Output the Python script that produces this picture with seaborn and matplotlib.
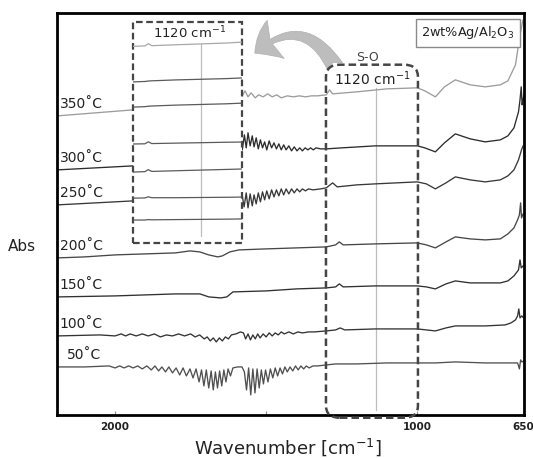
import numpy as np
import pandas as pd
import matplotlib.pyplot as plt
from matplotlib.patches import FancyBboxPatch, Rectangle
import seaborn as sns

# ---- spectra (wavenumber in cm-1, absorbance offset a.u.) ----
temps = ['350', '300', '250', '200', '150', '100', '50']

t350_wn = [2190, 1940, 1579, 1570, 1560, 1550, 1536, 1525, 1510, 1495, 1480, 1465, 1450, 1430, 1410,
           1390, 1370, 1350, 1330, 1301, 1290, 1280, 1200, 1100, 1000, 975, 940, 910, 874, 825,
           775, 725, 700, 675, 660, 650]
t350_a = [2.99, 3.05, 3.19, 3.24, 3.18, 3.22, 3.17, 3.20, 3.18, 3.21, 3.18, 3.20, 3.17, 3.19, 3.18,
          3.19, 3.18, 3.19, 3.19, 3.20, 3.25, 3.21, 3.23, 3.26, 3.27, 3.24, 3.18, 3.28, 3.35, 3.30,
          3.28, 3.30, 3.34, 3.50, 3.80, 3.95]

t300_wn = [2190, 1940, 1579, 1572, 1566, 1560, 1553, 1546, 1540, 1533, 1526, 1519, 1512, 1505, 1498,
           1490, 1482, 1474, 1466, 1458, 1450, 1442, 1434, 1425, 1416, 1407, 1398, 1389, 1380, 1371,
           1362, 1353, 1344, 1335, 1320, 1301, 1250, 1139, 1000, 975, 940, 910, 874, 825, 775, 725,
           700, 680, 665, 660, 656, 653, 650, 647]
t300_a = [2.45, 2.49, 2.65, 2.80, 2.67, 2.82, 2.69, 2.79, 2.68, 2.77, 2.66, 2.75, 2.67, 2.73, 2.65,
          2.74, 2.67, 2.72, 2.66, 2.71, 2.65, 2.70, 2.65, 2.69, 2.64, 2.68, 2.64, 2.67, 2.64, 2.67,
          2.65, 2.67, 2.65, 2.67, 2.66, 2.66, 2.67, 2.69, 2.69, 2.67, 2.63, 2.72, 2.81, 2.76, 2.73, 2.75,
          2.79, 2.87, 3.03, 3.15, 3.28, 3.10, 3.15, 3.20]

t250_wn = [2190, 1940, 1579, 1573, 1566, 1560, 1553, 1546, 1540, 1533, 1526, 1519, 1512, 1505, 1498,
           1490, 1482, 1474, 1466, 1458, 1450, 1442, 1434, 1425, 1416, 1407, 1398, 1389, 1380, 1370,
           1360, 1345, 1320, 1301, 1280, 1265, 1200, 1139, 1000, 970, 940, 905, 874, 825, 775, 725,
           700, 680, 665, 655, 650]
t250_a = [2.10, 2.14, 2.19, 2.08, 2.22, 2.07, 2.21, 2.09, 2.20, 2.11, 2.22, 2.13, 2.23, 2.15, 2.24,
          2.16, 2.25, 2.18, 2.25, 2.19, 2.26, 2.20, 2.26, 2.21, 2.26, 2.22, 2.26, 2.23, 2.26, 2.24,
          2.26, 2.25, 2.26, 2.27, 2.32, 2.28, 2.30, 2.31, 2.33, 2.31, 2.26, 2.32, 2.38, 2.35, 2.33, 2.35,
          2.39, 2.45, 2.55, 2.65, 2.69]

t200_wn = [2190, 2100, 2000, 1900, 1800, 1752, 1720, 1690, 1660, 1645, 1620, 1590, 1500, 1400, 1301,
           1270, 1258, 1245, 1139, 1000, 970, 940, 905, 874, 825, 775, 725, 700, 680, 668, 662, 658,
           655, 650]
t200_a = [1.57, 1.58, 1.60, 1.61, 1.62, 1.64, 1.63, 1.60, 1.58, 1.59, 1.63, 1.65, 1.66, 1.67, 1.68,
          1.70, 1.73, 1.70, 1.71, 1.72, 1.70, 1.67, 1.73, 1.78, 1.76, 1.75, 1.76, 1.81, 1.87, 1.95, 2.00, 2.12,
          1.97, 2.01]

t150_wn = [2190, 2000, 1800, 1719, 1690, 1650, 1630, 1610, 1500, 1400, 1301, 1270, 1258, 1245, 1139,
           1000, 970, 940, 905, 874, 825, 775, 725, 700, 680, 665, 660, 656, 650]
t150_a = [1.18, 1.19, 1.21, 1.21, 1.18, 1.17, 1.18, 1.23, 1.24, 1.26, 1.27, 1.28, 1.31, 1.28, 1.29,
          1.29, 1.28, 1.26, 1.31, 1.34, 1.32, 1.32, 1.32, 1.34, 1.39, 1.45, 1.55, 1.47, 1.49]

t100_wn = [2190, 2050, 2000, 1980, 1965, 1950, 1930, 1910, 1890, 1870, 1850, 1830, 1810, 1790, 1770,
           1750, 1735, 1720, 1705, 1695, 1685, 1675, 1665, 1655, 1645, 1635, 1625, 1615, 1600, 1585,
           1575, 1568, 1560, 1552, 1544, 1536, 1528, 1520, 1510, 1500, 1490, 1480, 1470, 1460, 1450,
           1440, 1425, 1410, 1395, 1380, 1360, 1340, 1301, 1270, 1255, 1240, 1139, 1000, 970, 940,
           905, 874, 825, 775, 709, 690, 675, 668, 664, 660, 654, 648]
t100_a = [0.79, 0.80, 0.79, 0.81, 0.79, 0.81, 0.79, 0.81, 0.79, 0.81, 0.78, 0.80, 0.79, 0.81, 0.79,
          0.81, 0.78, 0.80, 0.76, 0.78, 0.74, 0.77, 0.73, 0.77, 0.74, 0.78, 0.76, 0.80, 0.81, 0.83,
          0.82, 0.76, 0.81, 0.75, 0.80, 0.76, 0.81, 0.77, 0.81, 0.78, 0.82, 0.79, 0.82, 0.80, 0.83,
          0.81, 0.83, 0.81, 0.83, 0.82, 0.83, 0.83, 0.84, 0.85, 0.87, 0.85, 0.86, 0.86, 0.85, 0.84,
          0.87, 0.89, 0.89, 0.89, 0.90, 0.92, 0.95, 0.99, 1.06, 0.97, 0.99, 0.97]

t50_wn = [2190, 2100, 2020, 2000, 1985, 1970, 1955, 1940, 1925, 1910, 1895, 1880, 1868, 1856, 1845,
          1833, 1822, 1810, 1798, 1786, 1775, 1764, 1752, 1742, 1732, 1722, 1714, 1706, 1698, 1690,
          1682, 1675, 1668, 1661, 1654, 1647, 1640, 1633, 1626, 1618, 1610, 1595, 1580, 1572, 1565,
          1558, 1551, 1544, 1537, 1530, 1523, 1516, 1509, 1502, 1494, 1486, 1478, 1470, 1462, 1454,
          1446, 1438, 1430, 1421, 1412, 1403, 1394, 1385, 1376, 1367, 1358, 1345, 1330, 1301, 1270,
          1200, 1100, 1000, 940, 874, 775, 700, 668, 662, 658, 654, 648]
t50_a = [0.48, 0.48, 0.49, 0.47, 0.49, 0.47, 0.49, 0.47, 0.49, 0.46, 0.49, 0.45, 0.49, 0.44, 0.48,
         0.43, 0.48, 0.42, 0.47, 0.40, 0.47, 0.39, 0.46, 0.37, 0.46, 0.33, 0.45, 0.29, 0.45, 0.27,
         0.44, 0.25, 0.43, 0.27, 0.44, 0.29, 0.45, 0.33, 0.46, 0.39, 0.47, 0.48, 0.48, 0.43, 0.25,
         0.47, 0.20, 0.46, 0.22, 0.46, 0.27, 0.45, 0.31, 0.45, 0.33, 0.46, 0.37, 0.47, 0.39, 0.47,
         0.41, 0.48, 0.43, 0.48, 0.44, 0.49, 0.45, 0.49, 0.46, 0.49, 0.47, 0.49, 0.49, 0.50, 0.51,
         0.51, 0.52, 0.52, 0.52, 0.53, 0.52, 0.52, 0.52, 0.46, 0.55, 0.53, 0.54]

# zoomed view around the S-O band (inset)
inset_wn = [1200, 1186, 1182, 1178, 1150, 1120, 1090, 1072]
inset_350 = [0.890, 0.892, 0.902, 0.893, 0.897, 0.901, 0.905, 0.909]
inset_300 = [0.729, 0.731, 0.733, 0.734, 0.738, 0.741, 0.744, 0.747]
inset_250 = [0.615, 0.617, 0.619, 0.620, 0.624, 0.627, 0.630, 0.633]
inset_200 = [0.448, 0.449, 0.458, 0.450, 0.452, 0.454, 0.456, 0.457]
inset_150 = [0.321, 0.323, 0.332, 0.324, 0.327, 0.330, 0.333, 0.335]
inset_100 = [0.203, 0.204, 0.209, 0.205, 0.205, 0.206, 0.207, 0.208]
inset_50 = [0.104, 0.104, 0.106, 0.105, 0.106, 0.107, 0.108, 0.109]

so_band = 1138  # drawn marker position of the 1120 cm-1 band

spectra = {
    '350': (t350_wn, t350_a), '300': (t300_wn, t300_a), '250': (t250_wn, t250_a),
    '200': (t200_wn, t200_a), '150': (t150_wn, t150_a), '100': (t100_wn, t100_a),
    '50': (t50_wn, t50_a),
}
insets = {'350': inset_350, '300': inset_300, '250': inset_250, '200': inset_200,
          '150': inset_150, '100': inset_100, '50': inset_50}

colors = {'350': '#9c9c9c', '300': '#2c2c2c', '250': '#383838', '200': '#474747',
          '150': '#303030', '100': '#333333', '50': '#505050'}
inset_colors = {t: '#5a5a5a' for t in temps}
inset_colors['350'] = '#a8a8a8'

df = pd.concat([pd.DataFrame({'wn': w, 'abs': a, 'temp': t}) for t, (w, a) in spectra.items()])
df_in = pd.concat([pd.DataFrame({'wn': inset_wn, 'abs': v, 'temp': t}) for t, v in insets.items()])

sns.set_style("white")
plt.rcParams['font.family'] = ['DejaVu Sans']

fig = plt.figure(figsize=(5.33, 4.58), dpi=100)
ax = fig.add_axes([0.107, 0.094, 0.876, 0.878])

sns.lineplot(data=df, x='wn', y='abs', hue='temp', palette=colors, estimator=None,
             sort=False, lw=0.95, legend=False, ax=ax)

ax.set_xlim(2192, 647)
ax.set_ylim(0, 4.02)
ax.set_yticks([])
ax.set_xticks([2000, 1000, 650])
ax.set_xticklabels(['2000', '1000', '650'], fontsize=7.5, fontweight='bold', color='#222')
ax.set_xticks([1500], minor=True)
ax.tick_params(axis='x', which='both', direction='in', length=3, width=0.8, color='#888',
               bottom=True, pad=5)
ax.set_xlabel('')
ax.set_ylabel('')
for s in ax.spines.values():
    s.set_color('black')
    s.set_linewidth(2)

# temperature labels
for t in temps:
    w, a = spectra[t]
    ax.text(2183 if len(t) == 3 else 2160, a[0] + 0.12, t + '˚C', fontsize=10,
            va='center', ha='left', color='#222')

# S-O band marker and rounded dashed box
ax.axvline(so_band, ymin=0.012, ymax=0.813, color='#bdbdbd', lw=0.9, zorder=0)
ax.add_patch(FancyBboxPatch((0.576, -0.007), 0.197, 0.878,
                            boxstyle="round,pad=0,rounding_size=0.03",
                            transform=ax.transAxes, fill=False, ec='#454545', lw=1.8,
                            ls=(0, (3, 1.6)), clip_on=False, zorder=5))
ax.text(0.666, 0.888, 'S-O', transform=ax.transAxes, fontsize=9, color='#444',
        ha='center', va='center')
ax.text(0.675, 0.835, '1120 cm$^{-1}$', transform=ax.transAxes, fontsize=10, color='#222',
        ha='center', va='center')

# sample label
ax.text(0.880, 0.950, '2wt%Ag/Al$_2$O$_3$', transform=ax.transAxes, fontsize=9.3,
        color='#222', ha='center', va='center',
        bbox=dict(boxstyle='square,pad=0.45', fc='white', ec='#8a8a8a', lw=1.0))

# curved arrow from the S-O box to the inset
ax.annotate('', xy=(0.478, 0.884), xytext=(0.629, 0.854), xycoords='figure fraction',
            textcoords='figure fraction',
            arrowprops=dict(arrowstyle='fancy,head_width=1.5,head_length=0.9,tail_width=0.6',
                            connectionstyle='arc3,rad=0.6', fc='#bdbdbd', ec='#b0b0b0',
                            lw=0.5, mutation_scale=20, shrinkA=0, shrinkB=0))

# inset with the zoomed 1120 cm-1 region
axin = fig.add_axes([0.2495, 0.4694, 0.2045, 0.4825])
axin.set_facecolor('white')
sns.lineplot(data=df_in, x='wn', y='abs', hue='temp', palette=inset_colors, estimator=None,
             sort=False, lw=0.9, legend=False, ax=axin)
axin.set_xlim(1200, 1072)
axin.set_ylim(0, 1)
axin.axvline(1120, ymin=0.03, ymax=0.90, color='#bdbdbd', lw=0.9, zorder=0)
axin.set_xticks([])
axin.set_yticks([])
axin.set_xlabel('')
axin.set_ylabel('')
for s in axin.spines.values():
    s.set_visible(False)
axin.add_patch(Rectangle((0, 0), 1, 1, transform=axin.transAxes, fill=False, ec='#454545',
                         lw=1.6, ls=(0, (3, 1.6)), clip_on=False))
axin.text(0.52, 0.95, '1120 cm$^{-1}$', transform=axin.transAxes, fontsize=9.5,
          color='#222', ha='center', va='center')

fig.text(0.015, 0.461, 'Abs', fontsize=11, color='#222', ha='left', va='center')
fig.text(0.540, 0.024, 'Wavenumber [cm$^{-1}$]', fontsize=13, color='#222',
         ha='center', va='center')

fig.savefig('out.png', dpi=100)
